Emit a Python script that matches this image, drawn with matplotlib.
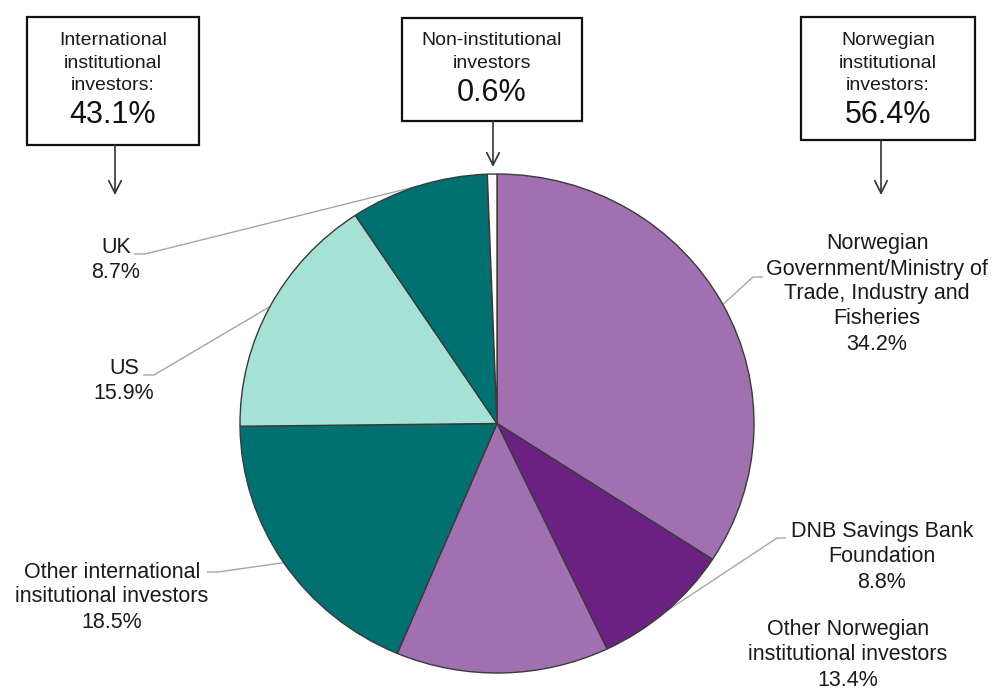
import matplotlib
matplotlib.use("Agg")
import matplotlib.pyplot as plt
import numpy as np

plt.rcParams['font.family'] = ['Liberation Sans', 'DejaVu Sans']

# Shareholder structure
names = ["Norwegian\nGovernment/Ministry of\nTrade, Industry and\nFisheries",
         "DNB Savings Bank\nFoundation",
         "Other Norwegian\ninstitutional investors",
         "Other international\ninsitutional investors",
         "US",
         "UK",
         "Non-institutional investors"]
shares = [34.2, 8.8, 13.4, 18.5, 15.9, 8.7, 0.6]
colors = ["#A070B0", "#6B2182", "#A070B0", "#007170", "#A6E1D5", "#007170", "#FFFFFF"]

groups = ["International\ninstitutional\ninvestors:", "Non-institutional\ninvestors", "Norwegian\ninstitutional\ninvestors:"]
group_shares = [43.1, 0.6, 56.4]

W, H = 999, 689
fig = plt.figure(figsize=(W / 100, H / 100), dpi=100)

# overlay axes in pixel coordinates (origin top-left)
ax = fig.add_axes([0, 0, 1, 1])
ax.set_xlim(0, W)
ax.set_ylim(H, 0)
ax.axis("off")

# pie axes occupying the ellipse bounding box
px0, px1, py0, py1 = 240, 754, 174, 673
pax = fig.add_axes([px0 / W, (H - py1) / H, (px1 - px0) / W, (py1 - py0) / H])
wedges, _ = pax.pie(shares, colors=colors, startangle=90, counterclock=False,
                    wedgeprops=dict(edgecolor="#3a3a3a", linewidth=1.0))
pax.set_aspect("auto")
pax.set_xlim(-1, 1)
pax.set_ylim(-1, 1)
pax.axis("off")


def edge_point(w):
    mid = np.deg2rad((w.theta1 + w.theta2) / 2)
    disp = pax.transData.transform((np.cos(mid), np.sin(mid)))
    return ax.transData.inverted().transform(disp)


fs = 15.5
# slice labels: (text centre, elbow, line end near text)
label_spec = {
    0: ((877, 294), (753, 277), (763, 277)),
    1: ((882, 557), (777, 538), (786, 538)),
    2: ((848, 655), None, None),
    3: ((112, 597), (218, 572), (207, 572)),
    4: ((124, 381), (154, 375), (143, 375)),
    5: ((116, 260), (145, 254), (134, 254)),
}
fig.canvas.draw()
for i, (pos, elbow, end) in label_spec.items():
    ax.text(pos[0], pos[1], f"{names[i]}\n{shares[i]:.1f}%", ha="center", va="center",
            multialignment="center", fontsize=fs, color="#1a1a1a", linespacing=1.25)
    if elbow is not None:
        p = edge_point(wedges[i])
        ax.plot([p[0], elbow[0], end[0]], [p[1], elbow[1], end[1]],
                color="#a6a6a6", lw=1.0, solid_capstyle="butt")

# group boxes with arrows
boxes = [
    ((27, 17, 199, 145), 115, 195),
    ((402, 18, 582, 121), 493, 167),
    ((801, 17, 975, 140), 881, 195),
]
for (x0, y0, x1, y1), axx, ayy in boxes:
    ax.add_patch(plt.Rectangle((x0, y0), x1 - x0, y1 - y0, fill=False,
                               edgecolor="#111111", lw=1.6))

for k, ((x0, y0, x1, y1), axx, ayy) in enumerate(boxes):
    cx = (x0 + x1) / 2
    nlines = groups[k].count("\n") + 1
    ytop = 41
    ax.text(cx, ytop + (nlines - 1) * 22 / 2, groups[k], ha="center", va="center",
            multialignment="center", fontsize=14, color="#1a1a1a", linespacing=1.42)
    ax.text(cx, ytop + (nlines - 1) * 22 + 30, f"{group_shares[k]:.1f}%", ha="center", va="center",
            fontsize=22, color="#111111")
    ax.annotate("", xy=(axx, ayy), xytext=(axx, y1),
                arrowprops=dict(arrowstyle="->,head_length=0.9,head_width=0.45",
                                color="#333333", lw=1.2, shrinkA=0, shrinkB=0))

fig.savefig("out.png", dpi=100)
